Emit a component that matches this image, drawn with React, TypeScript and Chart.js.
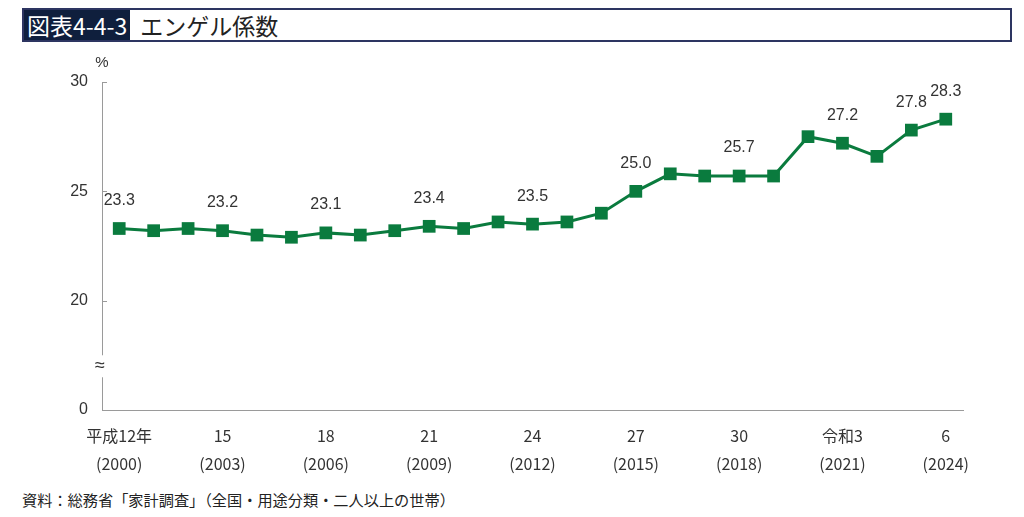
import { useEffect, useRef } from "react";
import { Chart, registerables } from "chart.js";

Chart.register(...registerables);

// 2000 (平成12年) – 2024 (令和6年)
const years = [
  2000, 2001, 2002, 2003, 2004, 2005, 2006, 2007, 2008, 2009, 2010, 2011, 2012,
  2013, 2014, 2015, 2016, 2017, 2018, 2019, 2020, 2021, 2022, 2023, 2024,
];
const engel = [
  23.3, 23.2, 23.3, 23.2, 23.0, 22.9, 23.1, 23.0, 23.2, 23.4, 23.3, 23.6, 23.5,
  23.6, 24.0, 25.0, 25.8, 25.7, 25.7, 25.7, 27.5, 27.2, 26.6, 27.8, 28.3,
];
// x tick labels (era year / western year), shown every 3 years
const tickLabels: Record<number, string[]> = {
  2000: ["平成12年", "(2000)"],
  2003: ["15", "(2003)"],
  2006: ["18", "(2006)"],
  2009: ["21", "(2009)"],
  2012: ["24", "(2012)"],
  2015: ["27", "(2015)"],
  2018: ["30", "(2018)"],
  2021: ["令和3", "(2021)"],
  2024: ["6", "(2024)"],
};
// years whose value is printed above the marker
const labelledYears = [2000, 2003, 2006, 2009, 2012, 2015, 2018, 2021, 2023, 2024];
const yTicks = [15, 20, 25, 30]; // 15 is the broken-axis stand-in for 0

const GREEN = "#0a7b3e";
const TEXT = "#333";
const AXIS = "#9a9a9a";
const NUM_FONT = "'Liberation Sans', Arial, sans-serif";
const JP_FONT = "'Noto Sans CJK JP', sans-serif";

const extrasPlugin = {
  id: "extras",
  afterDraw(chart: any) {
    const { ctx, chartArea, scales } = chart;
    const y = scales.y;
    ctx.save();
    // small inward ticks on the y axis
    ctx.strokeStyle = AXIS;
    ctx.lineWidth = 1;
    yTicks.forEach((v) => {
      const py = Math.round(y.getPixelForValue(v)) + 0.5;
      ctx.beginPath();
      ctx.moveTo(chartArea.left, py);
      ctx.lineTo(chartArea.left + 5, py);
      ctx.stroke();
    });
    // axis break
    const by = y.getPixelForValue(17);
    ctx.fillStyle = "#fff";
    ctx.fillRect(chartArea.left - 7, by - 11, 14, 22);
    ctx.fillStyle = TEXT;
    ctx.font = `18px ${NUM_FONT}`;
    ctx.textAlign = "center";
    ctx.textBaseline = "middle";
    ctx.fillText("≈", chartArea.left - 2, by);
    // unit
    ctx.font = `15px ${NUM_FONT}`;
    ctx.fillText("%", chartArea.left, chartArea.top - 19);
    // value labels
    const meta = chart.getDatasetMeta(0);
    ctx.font = `16px ${NUM_FONT}`;
    labelledYears.forEach((yr) => {
      const i = years.indexOf(yr);
      const pt = meta.data[i];
      ctx.fillText(engel[i].toFixed(1), pt.x, pt.y - 28);
    });
    ctx.restore();
  },
};

export default function App() {
  const canvasRef = useRef<HTMLCanvasElement>(null);

  useEffect(() => {
    if (!canvasRef.current) return;
    const chart = new Chart(canvasRef.current, {
      type: "line",
      data: {
        labels: years.map(String),
        datasets: [
          {
            data: engel,
            borderColor: GREEN,
            backgroundColor: GREEN,
            borderWidth: 3,
            pointStyle: "rect",
            pointRadius: 9,
            pointBorderWidth: 0,
            tension: 0,
          },
        ],
      },
      options: {
        animation: false,
        responsive: true,
        maintainAspectRatio: false,
        events: [],
        layout: { padding: { top: 32, right: 61, left: 0, bottom: 0 } },
        plugins: { legend: { display: false }, tooltip: { enabled: false } },
        scales: {
          x: {
            offset: true,
            grid: { display: false },
            border: { color: AXIS, width: 1 },
            afterFit: (s: any) => {
              s.height = 70;
            },
            ticks: {
              autoSkip: false,
              maxRotation: 0,
              padding: 4,
              color: TEXT,
              font: { family: JP_FONT, size: 16, lineHeight: "28px" },
              callback: (_v: any, i: number) => tickLabels[years[i]] ?? "",
            },
          },
          y: {
            min: 15,
            max: 30,
            afterFit: (s: any) => {
              s.width = 102;
            },
            afterBuildTicks: (s: any) => {
              s.ticks = yTicks.map((v) => ({ value: v }));
            },
            grid: { drawOnChartArea: false, drawTicks: false },
            border: { color: AXIS, width: 1 },
            ticks: {
              padding: 14,
              color: TEXT,
              font: { family: NUM_FONT, size: 16 },
              callback: (v: any) => (v === 15 ? "0" : String(v)),
            },
          },
        },
      },
      plugins: [extrasPlugin],
    });
    return () => chart.destroy();
  }, []);

  return (
    <div
      style={{
        position: "absolute",
        left: 0,
        top: 0,
        width: 1024,
        height: 517,
        background: "#fff",
        fontFamily: JP_FONT,
        color: TEXT,
      }}
    >
      <div
        style={{
          position: "absolute",
          left: 22,
          top: 8,
          width: 990,
          height: 34,
          boxSizing: "border-box",
          border: "2px solid #2d3561",
          display: "flex",
          alignItems: "center",
          fontSize: 23,
          color: "#222",
        }}
      >
        <span
          style={{
            background: "#0f1f3d",
            color: "#fff",
            height: "100%",
            display: "flex",
            alignItems: "center",
            padding: "0 3px 0 3px",
          }}
        >
          図表4-4-3
        </span>
        <span style={{ marginLeft: 10 }}>エンゲル係数</span>
      </div>
      <div style={{ position: "absolute", left: 0, top: 50, width: 1024, height: 430 }}>
        <canvas ref={canvasRef} />
      </div>
      <div
        style={{
          position: "absolute",
          left: 22,
          top: 488,
          fontSize: 15.2,
          color: "#222",
        }}
      >
        資料：総務省「家計調査」（全国・用途分類・二人以上の世帯）
      </div>
    </div>
  );
}
